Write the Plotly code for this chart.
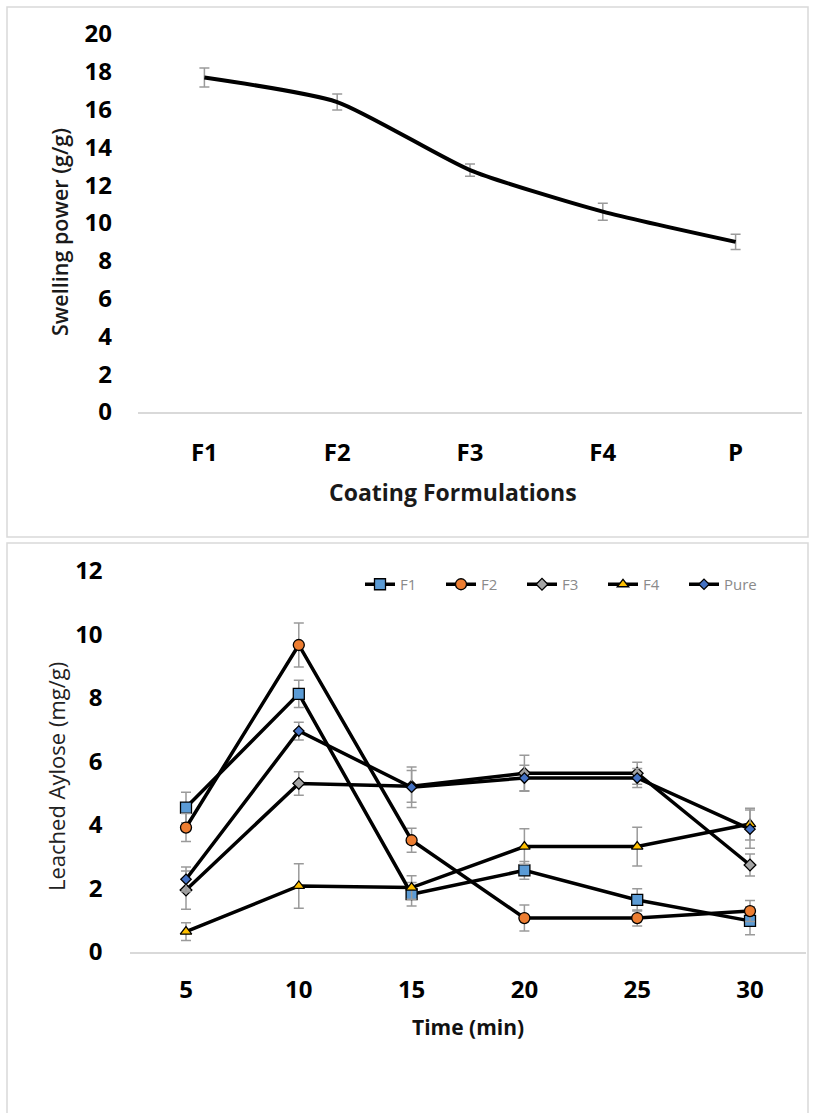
import plotly.graph_objects as go

# ---------------- data ----------------
formulations = ["F1", "F2", "F3", "F4", "P"]
swelling = [17.7, 16.4, 12.8, 10.6, 9.0]
swelling_err = [0.5, 0.42, 0.32, 0.45, 0.4]

time_min = [5, 10, 15, 20, 25, 30]
f1_vals = [4.55, 8.13, 1.82, 2.57, 1.64, 0.98]
f1_err = [0.48, 0.43, 0.37, 0.28, 0.35, 0.44]
f2_vals = [3.92, 9.67, 3.52, 1.07, 1.07, 1.29]
f2_err = [0.44, 0.69, 0.38, 0.41, 0.25, 0.33]
f3_vals = [1.95, 5.31, 5.22, 5.63, 5.63, 2.74]
f3_err = [0.6, 0.37, 0.5, 0.57, 0.35, 0.35]
f4_vals = [0.64, 2.08, 2.03, 3.32, 3.32, 4.03]
f4_err = [0.28, 0.7, 0.37, 0.56, 0.61, 0.5]
pure_vals = [2.29, 6.96, 5.19, 5.48, 5.48, 3.87]
pure_err = [0.39, 0.28, 0.64, 0.4, 0.3, 0.6]

series_names = ["F1", "F2", "F3", "F4", "Pure"]
series_vals = [f1_vals, f2_vals, f3_vals, f4_vals, pure_vals]
series_errs = [f1_err, f2_err, f3_err, f4_err, pure_err]
marker_symbols = ["square", "circle", "diamond", "triangle-up", "diamond"]
marker_colors = ["#5B9BD5", "#ED7D31", "#A5A5A5", "#FFC000", "#4472C4"]
marker_sizes = [11, 11, 9, 10, 8]

W, H = 815, 1113
def px(x):
    return x / W
def py(y):
    return 1 - y / H

ERR_COLOR = "#9a9a9a"
FONT = "Open Sans"

fig = go.Figure()

# top chart
fig.add_trace(go.Scatter(
    x=formulations, y=swelling, mode="lines",
    line=dict(color="black", width=4, shape="spline", smoothing=0.6),
    error_y=dict(type="data", array=swelling_err, color=ERR_COLOR, thickness=1.5, width=5),
    xaxis="x", yaxis="y", showlegend=False,
))

# bottom chart
for name, vals, errs, sym, col, sz in zip(series_names, series_vals, series_errs,
                                          marker_symbols, marker_colors, marker_sizes):
    fig.add_trace(go.Scatter(
        x=time_min, y=vals, mode="lines+markers", name=name,
        line=dict(color="black", width=3.5),
        marker=dict(symbol=sym, color=col, size=sz, line=dict(color="black", width=1.3)),
        error_y=dict(type="data", array=errs, color=ERR_COLOR, thickness=1.5, width=5),
        xaxis="x2", yaxis="y2",
    ))

tickfont = dict(family=FONT, size=24, color="black", weight="bold")

fig.update_layout(
    width=W, height=H,
    margin=dict(l=0, r=0, t=0, b=0, autoexpand=False),
    paper_bgcolor="white", plot_bgcolor="white",
    showlegend=True,
    legend=dict(orientation="h", x=px(360), y=py(568), xanchor="left", yanchor="top",
                font=dict(family=FONT, size=15, color="#8a8a8a"),
                entrywidth=36, entrywidthmode="pixels", itemsizing="trace",
                bgcolor="rgba(0,0,0,0)", tracegroupgap=0),
    xaxis=dict(domain=[px(138), px(802)], anchor="y", type="category",
               range=[-0.5, 4.5], showgrid=False, zeroline=False, automargin=False,
               showline=True, linecolor="#d9d9d9", linewidth=1.5,
               ticks="", tickfont=tickfont, ticklabelstandoff=18),
    yaxis=dict(domain=[py(412), py(34)], anchor="x", range=[0, 20], dtick=2,
               showgrid=False, zeroline=False, showline=False, automargin=False,
               ticks="", tickfont=tickfont, ticklabelstandoff=25),
    xaxis2=dict(domain=[px(129.6), px(806.4)], anchor="y2", automargin=False,
                range=[2.5, 32.5], tickvals=time_min, showgrid=False, zeroline=False,
                showline=True, linecolor="#d9d9d9", linewidth=1.5,
                ticks="", tickfont=tickfont, ticklabelstandoff=15),
    yaxis2=dict(domain=[py(952), py(571)], anchor="x2", range=[0, 12], dtick=2,
                showgrid=False, zeroline=False, showline=False, automargin=False,
                ticks="", tickfont=tickfont, ticklabelstandoff=26),
)

annotations = [
    dict(text="Swelling power (g/g)", x=px(60), y=py(232), textangle=-90,
         font=dict(family=FONT, size=21.5, color="#1a1a1a", weight=600)),
    dict(text="Coating Formulations", x=px(453), y=py(492),
         font=dict(family=FONT, size=23, color="#1a1a1a", weight="bold")),
    dict(text="Leached Aylose (mg/g)", x=px(56), y=py(777), textangle=-90,
         font=dict(family=FONT, size=22, color="#222222")),
    dict(text="Time (min)", x=px(468), y=py(1027),
         font=dict(family=FONT, size=21, color="#111111", weight="bold")),
]
for a in annotations:
    a.update(xref="paper", yref="paper", showarrow=False, xanchor="center", yanchor="middle")
fig.update_layout(annotations=annotations)

# panel borders
fig.add_shape(type="rect", xref="paper", yref="paper", x0=px(7), x1=px(808), y0=py(537), y1=py(7),
              line=dict(color="#d9d9d9", width=1.5), fillcolor="rgba(0,0,0,0)", layer="below")
fig.add_shape(type="rect", xref="paper", yref="paper", x0=px(7), x1=px(808), y0=py(1120), y1=py(543),
              line=dict(color="#d9d9d9", width=1.5), fillcolor="rgba(0,0,0,0)", layer="below")

fig.write_html("out.html")
